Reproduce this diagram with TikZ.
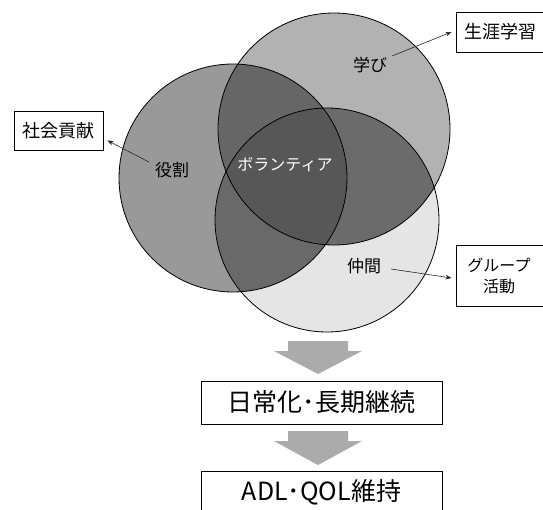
\documentclass[tikz,border=0pt]{standalone}
\usepackage{fontspec}
\setmainfont{Noto Sans CJK JP}
\usetikzlibrary{arrows.meta}
\begin{document}
\begin{tikzpicture}[x=1pt,y=-1pt,
  box/.style={draw=black, line width=0.9pt, fill=white, inner sep=0pt},
  lbl/.style={font=\fontsize{17}{17}\selectfont, inner sep=0pt},
  ptr/.style={-{Stealth[length=6pt,width=4.5pt]}, line width=0.6pt, black!85},
  fat/.style={fill=black!33},
  ring/.style={draw=black, line width=0.8pt}
]
\useasboundingbox (0,0) rectangle (543,509);
\fill[white] (0,0) rectangle (543,509);

\coordinate (cL) at (233,178);
\coordinate (cT) at (334,129);
\coordinate (cB) at (327,220);
\def\circL{(cL) circle[radius=114pt]}
\def\circT{(cT) circle[radius=116pt]}
\def\circB{(cB) circle[radius=112pt]}

% single regions
\fill[black!40] \circL;
\fill[black!30] \circT;
\fill[black!10] \circB;
% pairwise
\begin{scope}
  \clip \circL;
  \fill[black!60] \circT;
  \fill[black!59] \circB;
\end{scope}
\begin{scope}
  \clip \circT;
  \fill[black!58] \circB;
\end{scope}
% triple
\begin{scope}
  \clip \circL;
  \clip \circT;
  \fill[black!66] \circB;
\end{scope}
\draw[ring] \circL;
\draw[ring] \circT;
\draw[ring] \circB;

% labels in circles
\node[lbl] (yakuwari) at (172,170) {役割};
\node[lbl] (manabi) at (370,65) {学び};
\node[lbl] (nakama) at (364,266) {仲間};
\node[lbl, text=white, font=\fontsize{16}{16}\selectfont] (volunteer) at (285,165) {ボランティア};

% outer boxes
\node[box, minimum width=89pt, minimum height=39pt, font=\fontsize{18}{18}\selectfont] (shakai) at (58.5,130.5) {社会貢献};
\node[box, minimum width=92pt, minimum height=40pt, font=\fontsize{18}{18}\selectfont] (seigai) at (502,32) {\hspace*{-4pt}生涯学習};
\node[box, minimum width=92pt, minimum height=61pt, align=center, font=\fontsize{16}{21}\selectfont] (group) at (502,275.5) {\hspace*{-6pt}グループ\\\hspace*{-6pt}活動};

% pointer arrows
\draw[ptr] ([shift={(-6,0)}]yakuwari.north west) -- ([shift={(4,-10)}]shakai.south east);
\draw[ptr] ([shift={(5,-1)}]manabi.north east) -- ([shift={(-4,0)}]seigai.west);
\draw[ptr] ([shift={(10,3)}]nakama.east) -- ([shift={(-4,2.5)}]group.west);

% flow
\node[box, minimum width=241pt, minimum height=43pt, font=\fontsize{25}{25}\selectfont] (daily) at (321.5,402.5) {日常化･長期継続};
\node[box, minimum width=241pt, minimum height=42pt, font=\fontsize{25}{25}\selectfont] (adl) at (321.5,492) {ADL･QOL維持};

\fill[fat] (288,341) -- (348,341) -- (348,351) -- (362,351) -- (318,374) -- (274,351) -- (288,351) -- cycle;
\fill[fat] (288,431) -- (348,431) -- (348,441) -- (362,441) -- (318,465) -- (274,441) -- (288,441) -- cycle;
\end{tikzpicture}
\end{document}
